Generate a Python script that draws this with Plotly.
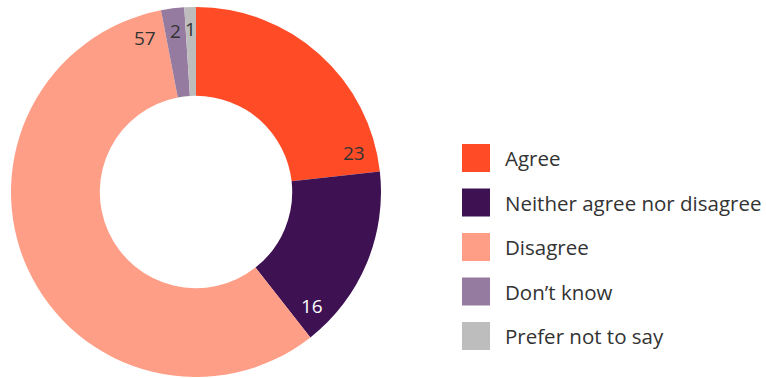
import math
import plotly.graph_objects as go

# Survey responses (percent)
categories = ["Agree", "Neither agree nor disagree", "Disagree", "Don\u2019t know", "Prefer not to say"]
values = [23, 16, 57, 2, 1]
colors = ["#FF4B26", "#3D1152", "#FF9E86", "#967BA0", "#BDBDBD"]
label_colors = ["#333333", "#FFFFFF", "#333333", "#333333", "#333333"]

W, H = 766, 378
FONT = "Open Sans"

# Pie geometry (pixels)
cx, cy, R = 196, 192, 185

fig = go.Figure(go.Pie(
    labels=categories,
    values=values,
    marker=dict(colors=colors, line=dict(width=0)),
    hole=0.52,
    sort=False,
    direction="clockwise",
    rotation=0,
    textinfo="none",
    hoverinfo="label+value",
    domain=dict(x=[(cx - R) / W, (cx + R) / W], y=[(H - cy - R) / H, (H - cy + R) / H]),
    showlegend=False,
))

# Value labels near the outer rim, towards the trailing edge of each slice
annotations = []
total = sum(values)
start = 0.0
for v, tc in zip(values, label_colors):
    span = v / total * 360
    end = start + span
    ang = max(start + span / 2, end - 7.5)
    r = R * 0.88
    px = cx + r * math.sin(math.radians(ang))
    py = cy - r * math.cos(math.radians(ang))
    annotations.append(dict(
        x=px / W, y=1 - py / H, xref="paper", yref="paper",
        text=str(v), showarrow=False,
        font=dict(family=FONT, size=19, color=tc),
        xanchor="center", yanchor="middle",
    ))
    start = end

# Legend: large swatches with labels
shapes = []
lx, sw, y0, step = 462, 28, 158, 44.5
for i, (cat, col) in enumerate(zip(categories, colors)):
    yc = y0 + i * step
    shapes.append(dict(
        type="rect", xref="paper", yref="paper",
        x0=lx / W, x1=(lx + sw) / W,
        y0=1 - (yc + sw / 2) / H, y1=1 - (yc - sw / 2) / H,
        fillcolor=col, line=dict(width=0),
    ))
    annotations.append(dict(
        x=(lx + sw + 13) / W, y=1 - yc / H, xref="paper", yref="paper",
        text=cat, showarrow=False, xanchor="left", yanchor="middle",
        font=dict(family=FONT, size=20.5, color="#333333"),
    ))

fig.update_layout(
    width=W, height=H,
    margin=dict(l=0, r=0, t=0, b=0),
    paper_bgcolor="white", plot_bgcolor="white",
    annotations=annotations, shapes=shapes,
    showlegend=False,
)

fig.write_html("out.html")
